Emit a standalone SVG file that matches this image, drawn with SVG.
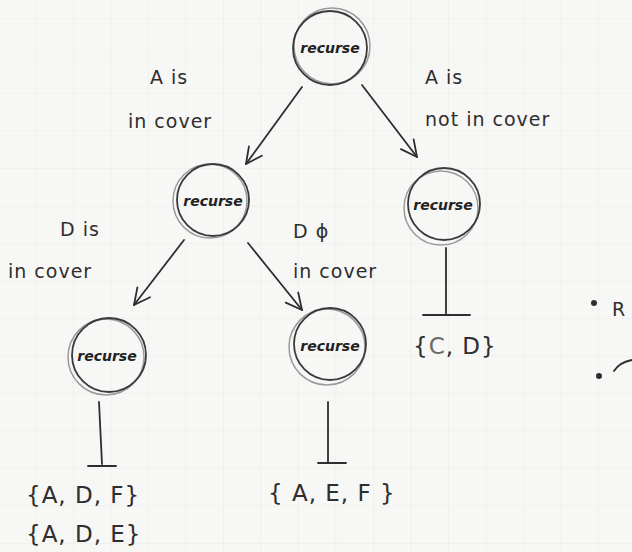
<svg xmlns="http://www.w3.org/2000/svg" width="632" height="552" viewBox="0 0 632 552">
  <defs>
    <pattern id="grid" x="35.5" y="18" width="37.5" height="37.5" patternUnits="userSpaceOnUse">
      <path d="M0 0H37.5M0 0V37.5" fill="none" stroke="#ebebea" stroke-width="1.2"/>
    </pattern>
    <marker id="arrowBig" viewBox="0 0 20 20" refX="18" refY="10" markerWidth="20" markerHeight="20" markerUnits="userSpaceOnUse" orient="auto">
      <path d="M2 2L18 10L2 18" fill="none" stroke="#2e2e2e" stroke-width="1.8" stroke-linecap="round" stroke-linejoin="round"/>
    </marker>
  </defs>
  <style>
    .ink { fill: none; stroke: #2e2e2e; stroke-width: 1.8; stroke-linecap: round; stroke-linejoin: round; }
    .ring { fill: none; stroke: #3a3a3a; stroke-width: 1.8; }
    .ring2 { fill: none; stroke: #9a9a9a; stroke-width: 1.5; }
    .node-label { font-family: "DejaVu Sans", sans-serif; font-size: 14px; fill: #222; text-anchor: middle; font-style: italic; font-weight: bold; }
    .edge-label { font-family: "DejaVu Sans", sans-serif; font-size: 19px; fill: #2e2e2e; letter-spacing: 1px; }
    .set { font-family: "DejaVu Sans", sans-serif; font-size: 23px; fill: #2e2e2e; letter-spacing: 1px; }
  </style>

  <rect width="632" height="552" fill="#f7f7f6"/>
  <rect width="632" height="552" fill="url(#grid)"/>

  <!-- connectors -->
  <g id="connectors">
    <line class="ink" x1="302" y1="87" x2="246" y2="164" marker-end="url(#arrowBig)"/>
    <line class="ink" x1="362" y1="85" x2="417" y2="157" marker-end="url(#arrowBig)"/>
    <line class="ink" x1="184" y1="240" x2="134" y2="305" marker-end="url(#arrowBig)"/>
    <line class="ink" x1="248" y1="243" x2="302" y2="310" marker-end="url(#arrowBig)"/>
    <!-- leaf bars -->
    <path class="ink" d="M446 248V314M423 315H470"/>
    <path class="ink" d="M99 402L102 464M88 466H116"/>
    <path class="ink" d="M328 402V462M318 463H346"/>
  </g>

  <!-- edge labels -->
  <g id="edge-labels">
    <text class="edge-label" x="150" y="84">A  is</text>
    <text class="edge-label" x="128" y="128">in cover</text>
    <text class="edge-label" x="425" y="84">A    is</text>
    <text class="edge-label" x="425" y="126">not  in  cover</text>
    <text class="edge-label" x="60" y="236">D  is</text>
    <text class="edge-label" x="8" y="278">in cover</text>
    <text class="edge-label" x="293" y="238">D  ϕ</text>
    <text class="edge-label" x="293" y="278">in cover</text>
  </g>

  <!-- nodes -->
  <g id="root">
    <circle class="ring2" cx="332" cy="46" r="38"/>
    <circle class="ring" cx="330" cy="48" r="37"/>
    <text class="node-label" x="330" y="53">recurse</text>
  </g>
  <g id="left">
    <circle class="ring2" cx="210" cy="201" r="37"/>
    <circle class="ring" cx="213" cy="200" r="36"/>
    <text class="node-label" x="213" y="206">recurse</text>
  </g>
  <g id="right">
    <circle class="ring2" cx="441" cy="208" r="37"/>
    <circle class="ring" cx="444" cy="204" r="36"/>
    <text class="node-label" x="443" y="210">recurse</text>
  </g>
  <g id="left-left">
    <circle class="ring2" cx="106" cy="357" r="38"/>
    <circle class="ring" cx="109" cy="355" r="37"/>
    <text class="node-label" x="107" y="361">recurse</text>
  </g>
  <g id="left-right">
    <circle class="ring2" cx="327" cy="347" r="38"/>
    <circle class="ring" cx="330" cy="344" r="36"/>
    <text class="node-label" x="330" y="351">recurse</text>
  </g>

  <!-- leaf sets -->
  <g id="sets">
    <text class="set" x="413" y="354">{<tspan fill="#6a6a6a">C</tspan>, D}</text>
    <text class="set" x="26" y="503">{A, D, F}</text>
    <text class="set" x="26" y="542">{A, D, E}</text>
    <text class="set" x="268" y="501">{ A, E, F }</text>
  </g>

  <!-- bullets at the margin -->
  <g id="notes">
    <circle cx="594" cy="303" r="3" fill="#2e2e2e"/>
    <text class="edge-label" x="612" y="316">R</text>
    <circle cx="599" cy="376" r="3" fill="#2e2e2e"/>
    <path class="ink" d="M614 371Q620 362 632 360"/>
  </g>
</svg>
